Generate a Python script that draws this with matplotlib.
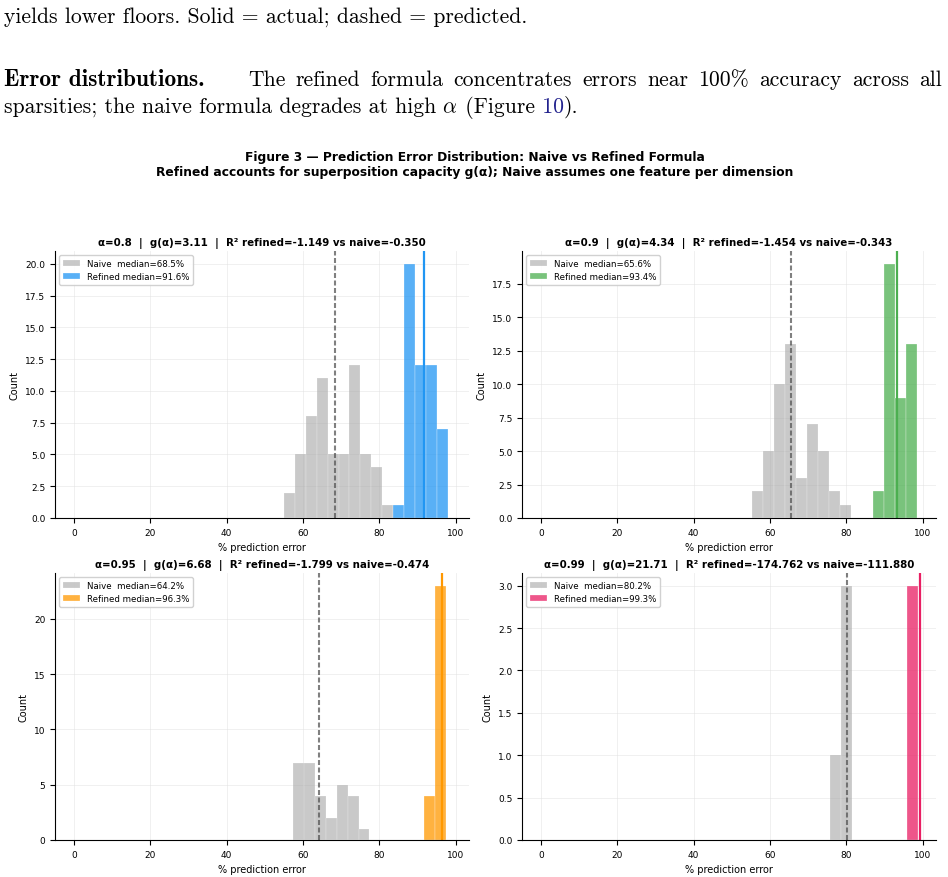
import numpy as np
import matplotlib
matplotlib.use("Agg")
import matplotlib.pyplot as plt

plt.rcParams['mathtext.fontset'] = 'cm'

# sparsity settings shown in the four panels
alphas = [0.8, 0.9, 0.95, 0.99]
g_alpha = [3.11, 4.34, 6.68, 21.71]
r2_refined = [-1.149, -1.454, -1.799, -174.762]
r2_naive = [-0.350, -0.343, -0.474, -111.880]
naive_median = [68.5, 65.6, 64.2, 80.2]
refined_median = [91.6, 93.4, 96.3, 99.3]

# shared histogram bins per panel: (low, high, number of bins)
bin_ranges = [(54.9, 98.1, 15), (55.2, 98.5, 15), (57.4, 97.4, 14), (75.6, 98.9, 8)]
naive_counts = [
    [2, 5, 8, 11, 5, 5, 12, 5, 4, 1, 0, 0, 0, 0, 0],
    [2, 5, 10, 13, 3, 7, 5, 2, 1, 0, 0, 0, 0, 0, 0],
    [7, 7, 4, 2, 5, 4, 1, 0, 0, 0, 0, 0, 0, 0],
    [1, 3, 0, 0, 0, 0, 0, 0],
]
refined_counts = [
    [0, 0, 0, 0, 0, 0, 0, 0, 0, 0, 1, 20, 12, 12, 7],
    [0, 0, 0, 0, 0, 0, 0, 0, 0, 0, 0, 2, 19, 9, 13],
    [0, 0, 0, 0, 0, 0, 0, 0, 0, 0, 0, 0, 4, 23],
    [0, 0, 0, 0, 0, 0, 0, 3],
]
colors = ['#2196F3', '#4CAF50', '#FF9800', '#E91E63']

W, H = 948, 878
fig = plt.figure(figsize=(W / 100, H / 100), dpi=100)


def box(x0, y0, x1, y1):
    return [x0 / W, 1 - y1 / H, (x1 - x0) / W, (y1 - y0) / H]


boxes = [box(55, 252, 469, 519), box(522, 252, 936, 519),
         box(55, 574, 469, 841), box(522, 574, 936, 841)]

for i in range(4):
    ax = fig.add_axes(boxes[i])
    lo, hi, n = bin_ranges[i]
    edges = np.linspace(lo, hi, n + 1)
    ax.hist(edges[:-1], bins=edges, weights=naive_counts[i], color='#9E9E9E',
            alpha=0.55, edgecolor='white', linewidth=0.25,
            label=f'Naive  median={naive_median[i]:.1f}%')
    ax.hist(edges[:-1], bins=edges, weights=refined_counts[i], color=colors[i],
            alpha=0.75, edgecolor='white', linewidth=0.25,
            label=f'Refined median={refined_median[i]:.1f}%')
    ax.axvline(naive_median[i], color='#555555', ls=(0, (2.4, 1.2)), lw=1.5, alpha=0.75)
    ax.axvline(refined_median[i], color=colors[i], lw=1.6)
    ax.set_xlim(-5, 103.5)
    ax.set_title(f'α={alphas[i]}  |  g(α)={g_alpha[i]:.2f}  |  '
                 f'R² refined={r2_refined[i]:.3f} vs naive={r2_naive[i]:.3f}',
                 fontsize=7.4, fontweight='bold', pad=4)
    ax.set_xlabel('% prediction error', fontsize=7)
    ax.set_ylabel('Count', fontsize=7)
    ax.tick_params(labelsize=6.5)
    ax.grid(True, color='#dddddd', alpha=0.5, lw=0.6)
    ax.set_axisbelow(True)
    for s in ['top', 'right']:
        ax.spines[s].set_visible(False)
    ax.legend(loc='upper left', fontsize=6.2, framealpha=0.9)

fig.suptitle('Figure 3 — Prediction Error Distribution: Naive vs Refined Formula\n'
             'Refined accounts for superposition capacity g(α); Naive assumes one feature per dimension',
             fontsize=8.8, fontweight='bold', x=475 / W, y=1 - 165 / H, va='center')

# surrounding paper text
renderer = fig.canvas.get_renderer()
rm = dict(family='cmr10', fontsize=15.6)
bf = dict(family='cmb10', fontsize=16.8)


def put(pieces, x, yb):
    for s, kw in pieces:
        t = fig.text(x / W, 1 - yb / H, s, va='baseline', ha='left', **kw)
        x += t.get_window_extent(renderer).width
    return x


def justify(words, x0, x1, yb, kw):
    ts = [fig.text(0, 1 - yb / H, w, va='baseline', ha='left', **kw) for w in words]
    ws = [t.get_window_extent(renderer).width for t in ts]
    gap = (x1 - x0 - sum(ws)) / (len(words) - 1)
    x = x0
    for t, w in zip(ts, ws):
        t.set_x(x / W)
        x += w + gap


put([('yields lower floors. Solid = actual; dashed = predicted.', rm)], 4, 23)
put([('Error distributions.', bf)], 4, 86)
justify('The refined formula concentrates errors near 100% accuracy across all'.split(),
        248, 942, 86, rm)
put([('sparsities; the naive formula degrades at high', rm),
     (r' $\alpha$', dict(fontsize=15.6)),
     (' (Figure', rm),
     (' 10', dict(family='cmr10', fontsize=15.6, color='#23238e')),
     (').', rm)], 4, 113)

fig.savefig('out.png', dpi=100)
